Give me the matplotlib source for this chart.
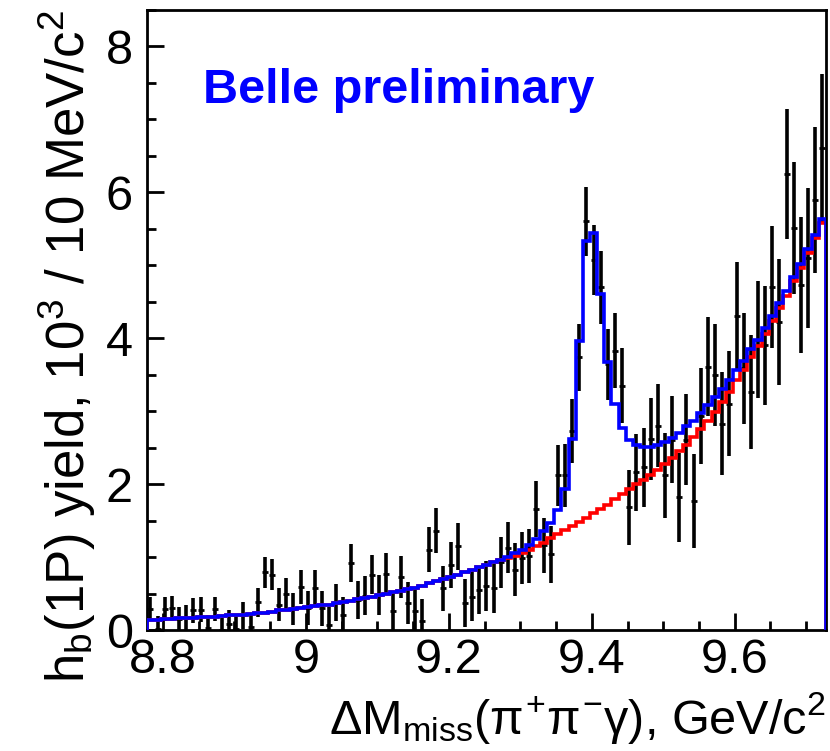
import numpy as np
import matplotlib
matplotlib.use("Agg")
import matplotlib.pyplot as plt
from matplotlib.ticker import MultipleLocator

plt.rcParams['font.family'] = ['Liberation Sans', 'DejaVu Sans']
plt.rcParams['mathtext.fontset'] = 'custom'
plt.rcParams['mathtext.rm'] = 'Liberation Sans'
plt.rcParams['mathtext.it'] = 'Liberation Sans'

# 10 MeV bins from 8.7775 to 9.7275 GeV/c^2
x_lo, bin_w, n_bins = 8.7775, 0.01, 95

# data points (10^3 events / bin) and errors
yields = [0.29, 0.02, 0.29, 0.30, 0.15, 0.17, 0.27, 0.28, 0.03, 0.29,
          0.00, 0.09, 0.02, 0.20, 0.04, 0.38, 0.79, 0.76, 0.35, 0.50,
          0.29, 0.59, 0.30, 0.58, 0.30, 0.07, 0.38, 0.21, 0.92, 0.41,
          0.47, 0.76, 0.48, 0.77, 0.26, 0.73, 0.375, 0.26, 0.12, 1.10,
          1.36, 0.57, 0.89, 1.15, 0.375, 0.46, 0.545, 0.60, 0.57, 0.93,
          1.13, 0.83, 0.99, 1.02, 1.66, 1.16, 1.04, 2.12, 2.12, 2.73,
          3.74, 5.60, 5.07, 4.70, 3.64, 3.83, 3.35, 1.68, 2.16, 2.23,
          2.62, 2.80, 2.12, 2.61, 1.82, 2.61, 1.77, 2.93, 3.61, 3.49,
          2.83, 3.10, 4.30, 3.59, 3.26, 3.98, 3.90, 4.70, 4.22, 6.25,
          5.51, 4.73, 5.10, 5.89, 6.60]
errors = [0.17, 0.17, 0.17, 0.17, 0.17, 0.17, 0.17, 0.17, 0.17, 0.17,
          0.17, 0.18, 0.18, 0.19, 0.19, 0.20, 0.21, 0.21, 0.22, 0.22,
          0.22, 0.23, 0.23, 0.24, 0.24, 0.24, 0.25, 0.25, 0.26, 0.26,
          0.27, 0.27, 0.28, 0.28, 0.28, 0.29, 0.29, 0.30, 0.30, 0.31,
          0.31, 0.31, 0.32, 0.32, 0.33, 0.33, 0.33, 0.34, 0.34, 0.35,
          0.35, 0.36, 0.36, 0.37, 0.38, 0.38, 0.39, 0.42, 0.43, 0.44,
          0.46, 0.47, 0.48, 0.50, 0.49, 0.51, 0.51, 0.52, 0.53, 0.54,
          0.56, 0.57, 0.58, 0.60, 0.61, 0.62, 0.64, 0.66, 0.68, 0.70,
          0.71, 0.72, 0.74, 0.76, 0.78, 0.80, 0.82, 0.84, 0.86, 0.89,
          0.91, 0.93, 0.96, 1.00, 1.02]

# fit: total (blue) and background (red), per bin
total_fit = [0.14, 0.145, 0.15, 0.155, 0.16, 0.165, 0.17, 0.175, 0.18, 0.185,
             0.19, 0.20, 0.205, 0.21, 0.22, 0.23, 0.24, 0.25, 0.27, 0.28,
             0.29, 0.30, 0.32, 0.33, 0.34, 0.35, 0.37, 0.38, 0.40, 0.42,
             0.44, 0.46, 0.48, 0.50, 0.52, 0.54, 0.56, 0.58, 0.61, 0.64,
             0.67, 0.70, 0.73, 0.76, 0.79, 0.82, 0.86, 0.89, 0.93, 0.96,
             1.00, 1.05, 1.10, 1.17, 1.25, 1.36, 1.47, 1.65, 1.94, 2.62,
             3.96, 5.33, 5.44, 4.61, 3.67, 3.10, 2.77, 2.61, 2.53, 2.51,
             2.51, 2.54, 2.58, 2.63, 2.70, 2.79, 2.87, 2.97, 3.08, 3.19,
             3.31, 3.43, 3.56, 3.69, 3.85, 3.98, 4.14, 4.30, 4.48, 4.64,
             4.84, 5.01, 5.22, 5.42, 5.63]
background = [0.14, 0.145, 0.15, 0.155, 0.16, 0.165, 0.17, 0.175, 0.18, 0.185,
              0.19, 0.20, 0.205, 0.21, 0.22, 0.23, 0.24, 0.25, 0.27, 0.28,
              0.29, 0.30, 0.32, 0.33, 0.34, 0.35, 0.37, 0.38, 0.40, 0.42,
              0.44, 0.46, 0.48, 0.50, 0.52, 0.54, 0.56, 0.58, 0.61, 0.64,
              0.67, 0.70, 0.73, 0.76, 0.79, 0.82, 0.86, 0.89, 0.93, 0.96,
              0.99, 1.02, 1.06, 1.10, 1.15, 1.20, 1.26, 1.31, 1.37, 1.43,
              1.48, 1.54, 1.60, 1.66, 1.72, 1.79, 1.86, 1.93, 2.00, 2.06,
              2.13, 2.20, 2.28, 2.36, 2.45, 2.54, 2.64, 2.75, 2.87, 2.99,
              3.12, 3.26, 3.42, 3.57, 3.74, 3.89, 4.06, 4.23, 4.41, 4.58,
              4.78, 4.96, 5.17, 5.37, 5.58]

edges = x_lo + bin_w * np.arange(n_bins + 1)
centers = 0.5 * (edges[:-1] + edges[1:])

fig = plt.figure(figsize=(8.3, 7.51), dpi=100)
ax = fig.add_axes([0.177, 0.161, 0.818, 0.826])

ax.errorbar(centers, yields, yerr=errors, fmt='none', ecolor='black',
            elinewidth=2.6, capsize=0, zorder=2)
ax.plot(centers, yields, ls='none', marker='_', ms=5, mew=2, color='black', zorder=2)

ax.stairs(background, edges, baseline=0, color='red', lw=2.6, zorder=3)
ax.stairs(total_fit, edges, baseline=0, color='#0000ff', lw=2.6, zorder=4)

ax.set_xlim(edges[0], edges[-1])
ax.set_ylim(0, 8.5)

ax.xaxis.set_minor_locator(MultipleLocator(0.05))
ax.yaxis.set_major_locator(MultipleLocator(2))
ax.yaxis.set_minor_locator(MultipleLocator(0.5))
ax.set_xticks([8.8, 9.0, 9.2, 9.4, 9.6])
ax.set_xticklabels(['8.8', '9', '9.2', '9.4', '9.6'])

ax.tick_params(which='both', direction='in', width=2, labelsize=35)
ax.tick_params(which='major', length=12)
ax.tick_params(which='minor', length=6.5)
ax.tick_params(axis='x', pad=6)
ax.tick_params(axis='y', pad=10)
for s in ax.spines.values():
    s.set_linewidth(2)

ax.set_xlabel(r'$\Delta$M$_{\rm miss}$($\pi^{+}\pi^{-}\gamma$), GeV/c$^{2}$',
              fontsize=35, loc='right', labelpad=5)
ax.set_ylabel(r'h$_{\rm b}$(1P) yield, 10$^{3}$ / 10 MeV/c$^{2}$',
              fontsize=38, loc='top', labelpad=6)

ax.text(0.083, 0.87, 'Belle preliminary', transform=ax.transAxes,
        color='#0000ff', fontsize=35, fontweight='bold', ha='left', va='center')

fig.savefig('out.png', dpi=100)
